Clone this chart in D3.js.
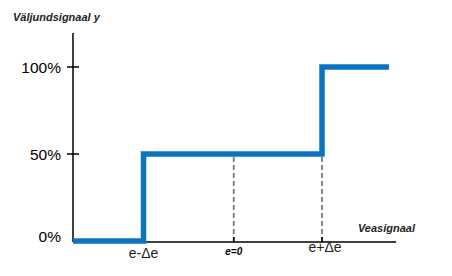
<!DOCTYPE html>
<html>
<head>
<meta charset="utf-8">
<script src="https://d3js.org/d3.v7.min.js"></script>
<style>
  body { margin: 0; background: #fff; }
  text { font-family: "Liberation Sans", Arial, sans-serif; }
</style>
</head>
<body>
<script>
// step response: error (x) vs output (y, %)
var stepX = [-1.79, -1, -1, 1, 1, 1.75];
var stepY = [0, 0, 50, 50, 100, 100];
var yTicks = [0, 50, 100];
var yTickLabels = ["0%", "50%", "100%"];
var xTicks = [-1, 0, 1];
var xTickLabels = ["e-\u0394e", "e=0", "e+\u0394e"];
var dashedAt = [0, 1];

var width = 452, height = 276;
var svg = d3.select("body").append("svg")
  .attr("width", width)
  .attr("height", height);

var x = d3.scaleLinear().domain([-1, 1]).range([143.5, 322]);
var y = d3.scaleLinear().domain([0, 100]).range([241, 67]);

var x0 = x(-1.79), yTop = 33, xEnd = x(1.83);

// dashed guides
svg.selectAll("line.guide")
  .data(dashedAt)
  .enter().append("line")
  .attr("class", "guide")
  .attr("x1", d => x(d) + (d == 0 ? 1 : 0)).attr("x2", d => x(d) + (d == 0 ? 1 : 0))
  .attr("y1", y(50) + 3).attr("y2", y(0))
  .attr("stroke", "#777")
  .attr("stroke-width", 1.8)
  .attr("stroke-dasharray", "5,3");

// axes
svg.append("line")
  .attr("x1", x0).attr("x2", x0)
  .attr("y1", yTop).attr("y2", y(0) + 1)
  .attr("stroke", "#000").attr("stroke-width", 1.5);
svg.append("line")
  .attr("x1", x0).attr("x2", xEnd)
  .attr("y1", y(0) + 1).attr("y2", y(0) + 1)
  .attr("stroke", "#000").attr("stroke-width", 1.5);

// y ticks
svg.selectAll("line.ytick")
  .data(yTicks.filter(d => d > 0))
  .enter().append("line")
  .attr("class", "ytick")
  .attr("x1", x0 - 6).attr("x2", x0 + 6)
  .attr("y1", d => y(d)).attr("y2", d => y(d))
  .attr("stroke", "#000").attr("stroke-width", 1.5);

svg.selectAll("text.ylab")
  .data(yTicks)
  .enter().append("text")
  .attr("class", "ylab")
  .attr("x", 61)
  .attr("y", (d, i) => y(d) + (d == 0 ? 1 : 6))
  .attr("text-anchor", "end")
  .attr("font-size", 15.5)
  .text((d, i) => yTickLabels[i]);

// small x ticks under dashes
svg.selectAll("line.xtick")
  .data(dashedAt)
  .enter().append("line")
  .attr("class", "xtick")
  .attr("x1", d => x(d) + (d == 0 ? 1 : 0)).attr("x2", d => x(d) + (d == 0 ? 1 : 0))
  .attr("y1", y(0) - 4).attr("y2", y(0) + 1)
  .attr("stroke", "#000").attr("stroke-width", 1.5);

// step line
var line = d3.line()
  .x(d => x(d[0]))
  .y(d => y(d[1]));
svg.append("path")
  .datum(stepX.map((d, i) => [d, stepY[i]]))
  .attr("d", line)
  .attr("fill", "none")
  .attr("stroke", "#0a74c0")
  .attr("stroke-width", 5.5)
  .attr("stroke-linejoin", "miter")
  .attr("stroke-linecap", "butt");

// x labels
svg.append("text").attr("x", x(-1)).attr("y", 258)
  .attr("text-anchor", "middle").attr("font-size", 14).attr("fill", "#222")
  .text(xTickLabels[0]);
svg.append("text").attr("x", x(0) + 1).attr("y", 255)
  .attr("text-anchor", "middle").attr("font-size", 10)
  .attr("font-weight", "bold").attr("font-style", "italic")
  .text(xTickLabels[1]);
svg.append("text").attr("x", x(1) + 3).attr("y", 252)
  .attr("text-anchor", "middle").attr("font-size", 14).attr("fill", "#222")
  .text(xTickLabels[2]);

// axis titles
svg.append("text").attr("x", 13).attr("y", 21)
  .attr("font-size", 11).attr("font-weight", "bold").attr("font-style", "italic")
  .attr("fill", "#222")
  .text("Väljundsignaal y");
svg.append("text").attr("x", 415).attr("y", 232)
  .attr("text-anchor", "end")
  .attr("font-size", 11).attr("font-weight", "bold").attr("font-style", "italic")
  .attr("fill", "#222")
  .text("Veasignaal");
</script>
</body>
</html>
